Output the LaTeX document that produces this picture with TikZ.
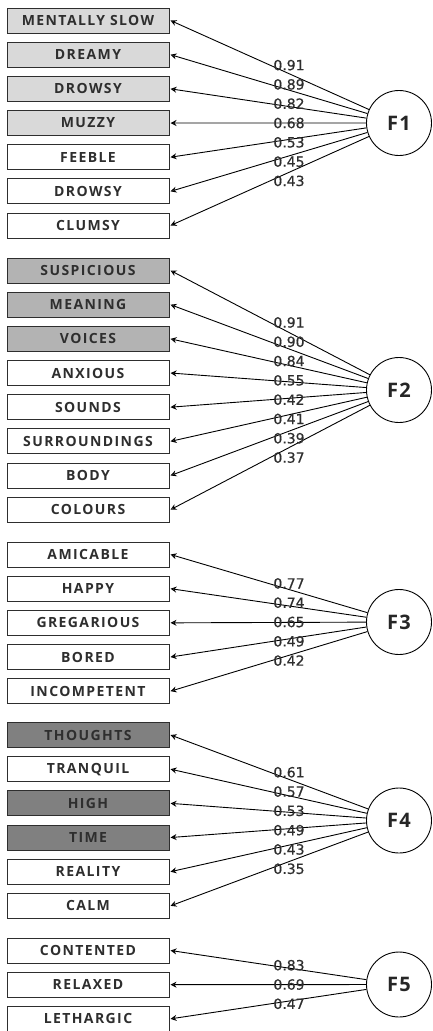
\documentclass[tikz,border=0pt]{standalone}
\usepackage{fontspec}
\usetikzlibrary{arrows.meta}
\newfontfamily\itemfont{Open Sans}[LetterSpace=10]
\newfontfamily\factorfont{Open Sans}[LetterSpace=6]
\newfontfamily\loadfont{DejaVu Sans}[FakeBold=0.6]
\definecolor{fillA}{HTML}{D9D9D9}
\definecolor{fillB}{HTML}{B3B3B3}
\definecolor{fillC}{HTML}{808080}
\definecolor{ink}{HTML}{2E2E2E}
\tikzset{
  item/.style={draw=ink, line width=1pt, minimum width=162pt, minimum height=25pt,
    inner sep=0pt, outer sep=1.5pt, text=ink,
    font=\itemfont\bfseries\fontsize{14}{16}\selectfont},
  factor/.style={circle, draw, line width=0.9pt, minimum size=65pt, inner sep=0pt,
    text=black!85, font=\factorfont\bfseries\fontsize{20}{24}\selectfont},
  load/.style={inner sep=0pt, text=black!82, font=\loadfont\fontsize{14}{16}\selectfont},
  link/.style={-{Stealth[open,length=6pt,width=6pt]}, line width=0.9pt},
}
\begin{document}
\begin{tikzpicture}[x=1pt,y=-1pt]
\fill[white] (0,0) rectangle (432,1031);
\useasboundingbox (0,0) rectangle (432,1031);

% Factor 1
\node[factor] (F1) at (399,123) {F1};
\foreach \txt/\fc [count=\i from 0] in {MENTALLY SLOW/fillA, DREAMY/fillA, DROWSY/fillA,
    MUZZY/fillA, FEEBLE/white, DROWSY/white, CLUMSY/white} {
  \node[item, fill=\fc] (a\i) at (88, {20.5+\i*34.17}) {\txt};
  \draw[link] (F1) -- (a\i.east);
}
\foreach \v [count=\i from 0] in {0.91,0.89,0.82,0.68,0.53,0.45,0.43}
  \node[load] (la\i) at (289, {123+(\i-3)*19.3}) {\v};

% Factor 2
\node[factor] (F2) at (399,390) {F2};
\foreach \txt/\fc [count=\i from 0] in {SUSPICIOUS/fillB, MEANING/fillB, VOICES/fillB,
    ANXIOUS/white, SOUNDS/white, SURROUNDINGS/white, BODY/white, COLOURS/white} {
  \node[item, fill=\fc] (b\i) at (88, {270.5+\i*34.17}) {\txt};
  \draw[link] (F2) -- (b\i.east);
}
\foreach \v [count=\i from 0] in {0.91,0.90,0.84,0.55,0.42,0.41,0.39,0.37}
  \node[load] (lb\i) at (289, {390+(\i-3.5)*19.3}) {\v};

% Factor 3
\node[factor] (F3) at (399,622) {F3};
\foreach \txt/\fc [count=\i from 0] in {AMICABLE/white, HAPPY/white, GREGARIOUS/white,
    BORED/white, INCOMPETENT/white} {
  \node[item, fill=\fc] (c\i) at (88, {554.5+\i*34.17}) {\txt};
  \draw[link] (F3) -- (c\i.east);
}
\foreach \v [count=\i from 0] in {0.77,0.74,0.65,0.49,0.42}
  \node[load] (lc\i) at (289, {622+(\i-2)*19.3}) {\v};

% Factor 4
\node[factor] (F4) at (399,820.5) {F4};
\foreach \txt/\fc [count=\i from 0] in {THOUGHTS/fillC, TRANQUIL/white, HIGH/fillC,
    TIME/fillC, REALITY/white, CALM/white} {
  \node[item, fill=\fc] (d\i) at (88, {735+\i*34.17}) {\txt};
  \draw[link] (F4) -- (d\i.east);
}
\foreach \v [count=\i from 0] in {0.61,0.57,0.53,0.49,0.43,0.35}
  \node[load] (ld\i) at (289, {820.5+(\i-2.5)*19.3}) {\v};

% Factor 5
\node[factor] (F5) at (399,984.5) {F5};
\foreach \txt/\fc [count=\i from 0] in {CONTENTED/white, RELAXED/white, LETHARGIC/white} {
  \node[item, fill=\fc] (e\i) at (88, {950.5+\i*34.17}) {\txt};
  \draw[link] (F5) -- (e\i.east);
}
\foreach \v [count=\i from 0] in {0.83,0.69,0.47}
  \node[load] (le\i) at (289, {984.5+(\i-1)*19.3}) {\v};
\end{tikzpicture}
\end{document}
